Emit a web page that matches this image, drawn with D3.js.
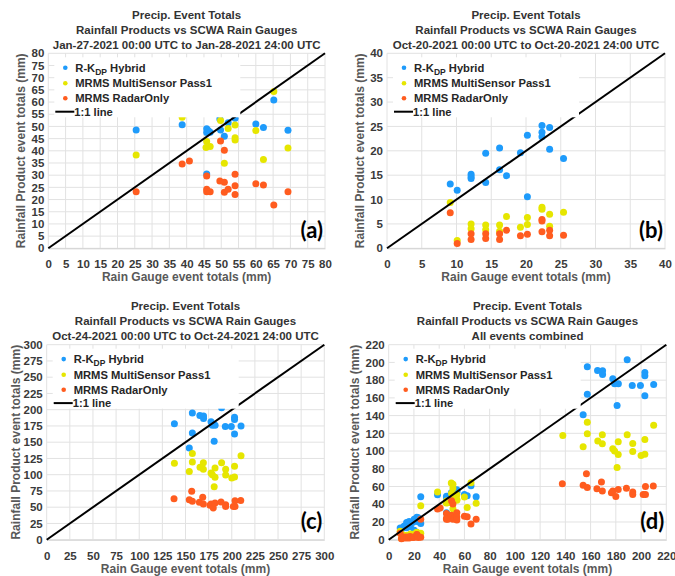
<!DOCTYPE html>
<html><head><meta charset="utf-8">
<script src="https://cdn.jsdelivr.net/npm/d3@7"></script>
<style>body{margin:0;background:#fff}svg{display:block}</style>
</head><body><svg id="chart" width="675" height="576"></svg>
<script>
// ---------- data ----------
const ticksA = [0,5,10,15,20,25,30,35,40,45,50,55,60,65,70,75,80];
const ticksB = [0,5,10,15,20,25,30,35,40];
const ticksC = [0,25,50,75,100,125,150,175,200,225,250,275,300];
const ticksD = [0,20,40,60,80,100,120,140,160,180,200,220];

const aRkdp = [[25.4,48.5],[38.7,50.7],[45.8,30.5],[45.8,49.0],[45.8,47.5],[46.3,48.2],[46.8,47.6],[49.6,53.0],[49.8,48.5],[50.9,46.0],[52.0,51.5],[54.0,56.3],[54.0,54.8],[54.0,53.4],[60.0,51.0],[62.2,49.6],[65.2,60.8],[69.3,48.4]];
const aMulti = [[25.4,38.3],[38.7,53.8],[45.8,43.8],[45.6,41.4],[46.8,41.8],[49.6,64.0],[50.9,62.6],[50.9,58.4],[49.8,52.4],[52.0,49.2],[54.0,50.6],[54.0,45.4],[54.0,44.4],[50.9,34.9],[60.0,48.3],[62.2,36.4],[65.2,64.3],[69.3,41.1]];
const aRadar = [[25.4,23.2],[38.7,34.6],[40.8,35.8],[45.8,29.7],[45.8,24.2],[45.8,23.2],[46.8,23.2],[49.8,44.0],[50.9,40.2],[49.6,27.6],[50.9,27.1],[50.9,23.0],[52.0,24.2],[54.0,30.4],[54.0,25.7],[54.0,22.1],[60.0,26.5],[62.2,26.0],[65.2,17.8],[69.3,23.2]];

const bRkdp = [[9.1,13.2],[10.1,11.9],[12.1,15.2],[12.1,14.7],[12.1,14.3],[14.2,19.5],[14.2,13.5],[16.2,20.6],[16.2,16.1],[17.2,14.9],[19.2,19.6],[20.2,23.2],[20.2,10.6],[22.3,25.2],[22.3,23.8],[22.3,22.9],[23.4,24.8],[23.4,20.3],[25.4,18.4]];
const bMulti = [[9.1,9.4],[10.1,1.6],[12.1,5.0],[12.1,4.0],[14.2,4.8],[14.2,3.8],[16.2,4.8],[16.2,3.5],[17.2,6.5],[19.2,4.3],[20.2,6.3],[20.2,4.9],[22.3,8.4],[22.3,8.0],[23.4,7.0],[23.4,4.5],[25.4,7.4]];
const bRadar = [[9.1,7.3],[10.1,1.0],[12.1,3.0],[12.1,1.8],[14.2,3.0],[14.2,2.0],[16.2,3.0],[16.2,1.8],[17.2,3.7],[19.2,2.6],[20.2,2.9],[22.3,5.9],[22.3,5.6],[22.3,3.4],[23.4,3.7],[23.4,2.6],[25.4,2.7]];

const cRkdp = [[138,178.5],[157.4,195],[157.4,164],[154.1,141],[165.5,191],[169.5,190.5],[169.5,186.5],[177.6,181.5],[179,176],[182,176],[181,151.5],[189,203],[193,174],[199.5,174],[203,188.5],[203,185],[203,162.5],[210,175]];
const cMulti = [[138,117.5],[157.4,132.5],[157.4,119.5],[154.1,105],[165.7,111.4],[169.3,118.5],[169.3,108.3],[177.6,102.5],[179,100],[181.9,96],[181.9,110.5],[181,81.5],[189,118.5],[193.4,108.5],[193.4,99.5],[200,95],[203,96.5],[203,113],[210,129]];
const cRadar = [[137.6,63],[154.1,61.5],[157.4,59],[156.7,74.4],[165,57.5],[168.6,65.2],[169.3,55],[176.5,53],[177.6,55],[180,48.8],[181.9,56.5],[188.4,58],[193.4,53.9],[193.4,51],[201.7,51],[203.5,51],[203.5,60],[209.7,60.5]];

// All events combined
const dRkdp = aRkdp.concat(bRkdp, cRkdp);
const dMulti = aMulti.concat(bMulti, cMulti);
const dRadar = aRadar.concat(bRadar, cRadar);

const titleLine1 = "Precip. Event Totals";
const titleLine2 = "Rainfall Products vs SCWA Rain Gauges";
const subtitles = ["Jan-27-2021 00:00 UTC to Jan-28-2021 24:00 UTC","Oct-20-2021 00:00 UTC to Oct-20-2021 24:00 UTC","Oct-24-2021 00:00 UTC to Oct-24-2021 24:00 UTC","All events combined"];
const panelLabels = ["(a)","(b)","(c)","(d)"];
const xTitle = "Rain Gauge event totals (mm)";
const yTitle = "Rainfall Product event totals (mm)";
const seriesColors = ["#1e9bfb","#e6e600","#ff5c1f"];

// ---------- layout ----------
const panels = [
  {data:[aRkdp,aMulti,aRadar], ticks:ticksA, box:[48.3,53.3,325,248.3], yOff:-23},
  {data:[bRkdp,bMulti,bRadar], ticks:ticksB, box:[387,53.3,665,248.3], yOff:-23},
  {data:[cRkdp,cMulti,cRadar], ticks:ticksC, box:[46.7,344.7,324.3,539.7], yOff:-27},
  {data:[dRkdp,dMulti,dRadar], ticks:ticksD, box:[388.7,344.7,666.3,539.7], yOff:-30}
];
const FONT = "'Liberation Sans', Arial, sans-serif";
const svg = d3.select("#chart");

panels.forEach((p,i)=>{
  const [L,T,R,B] = p.box;
  const max = p.ticks[p.ticks.length-1];
  const x = d3.scaleLinear().domain([0,max]).range([L,R]);
  const y = d3.scaleLinear().domain([0,max]).range([B,T]);
  const g = svg.append("g");

  // grid
  g.append("g").selectAll("line").data(p.ticks).join("line")
    .attr("x1",d=>x(d)).attr("x2",d=>x(d)).attr("y1",T).attr("y2",B)
    .attr("stroke","#e2e2e2").attr("stroke-width",1);
  g.append("g").selectAll("line").data(p.ticks).join("line")
    .attr("x1",L).attr("x2",R).attr("y1",d=>y(d)).attr("y2",d=>y(d))
    .attr("stroke","#e2e2e2").attr("stroke-width",1);

  // axes (labels only)
  const xa = g.append("g").attr("transform",`translate(0,${B})`)
    .call(d3.axisBottom(x).tickValues(p.ticks).tickSize(0).tickPadding(12).tickFormat(d3.format("d")));
  xa.select(".domain").attr("stroke","#d0d0d0");
  const ya = g.append("g").attr("transform",`translate(${L},0)`)
    .call(d3.axisLeft(y).tickValues(p.ticks).tickSize(0).tickPadding(4).tickFormat(d3.format("d")));
  ya.select(".domain").remove();
  g.selectAll(".tick text").attr("font-family",FONT).attr("font-size",11.5)
    .attr("font-weight","bold").attr("fill","#3a3a3a");

  // points
  p.data.forEach((ser,si)=>{
    g.append("g").selectAll("circle").data(ser).join("circle")
      .attr("cx",d=>x(d[0])).attr("cy",d=>y(d[1])).attr("r",3.5)
      .attr("fill",seriesColors[si]);
  });

  // 1:1 line
  g.append("line").attr("x1",x(0)).attr("y1",y(0)).attr("x2",x(max)).attr("y2",y(max))
    .attr("stroke","#000").attr("stroke-width",2);

  // legend
  const lg = g.append("g");
  lg.append("rect").attr("x",L+6).attr("y",T+4).attr("width",186).attr("height",60).attr("fill","#fff");
  const rows = [T+14.4,T+30,T+45,T+58.4];
  const lt = (yy)=>lg.append("text").attr("x",L+27).attr("y",yy+4).attr("font-family",FONT)
      .attr("font-size",11.2).attr("font-weight","bold").attr("fill","#262626");
  [0,1,2].forEach(k=>{
    lg.append("circle").attr("cx",L+17).attr("cy",rows[k]).attr("r",2.3).attr("fill",seriesColors[k]);
  });
  const t0 = lt(rows[0]);
  t0.append("tspan").text("R-K");
  t0.append("tspan").attr("font-size",8.5).attr("dy",3).text("DP");
  t0.append("tspan").attr("dy",-3).text(" Hybrid");
  lt(rows[1]).text("MRMS MultiSensor Pass1");
  lt(rows[2]).text("MRMS RadarOnly");
  lg.append("line").attr("x1",L+7).attr("x2",L+26).attr("y1",rows[3]).attr("y2",rows[3])
    .attr("stroke","#000").attr("stroke-width",2);
  lt(rows[3]).attr("x",L+26).text("1:1 line");

  // titles
  const cx = (L+R)/2;
  [titleLine1,titleLine2,subtitles[i]].forEach((s,k)=>{
    g.append("text").attr("x",cx).attr("y",T-34.3+15*k).attr("text-anchor","middle")
      .attr("font-family",FONT).attr("font-size",11.5).attr("font-weight","bold").attr("fill","#333")
      .text(s);
  });
  g.append("text").attr("x",cx).attr("y",B+33).attr("text-anchor","middle")
    .attr("font-family",FONT).attr("font-size",12).attr("font-weight","bold").attr("fill","#595959").text(xTitle);
  g.append("text").attr("transform",`translate(${L+p.yOff},${(T+B)/2}) rotate(-90)`).attr("text-anchor","middle")
    .attr("font-family",FONT).attr("font-size",12).attr("font-weight","bold").attr("fill","#595959").text(yTitle);

  // panel label
  g.append("text").attr("x",R-2).attr("y",B-10.5).attr("text-anchor","end")
    .attr("font-family","Lato, 'Open Sans', sans-serif").attr("font-size",22).attr("font-weight","bold")
    .attr("fill","#000").text(panelLabels[i]);
});
</script>
</body></html>
